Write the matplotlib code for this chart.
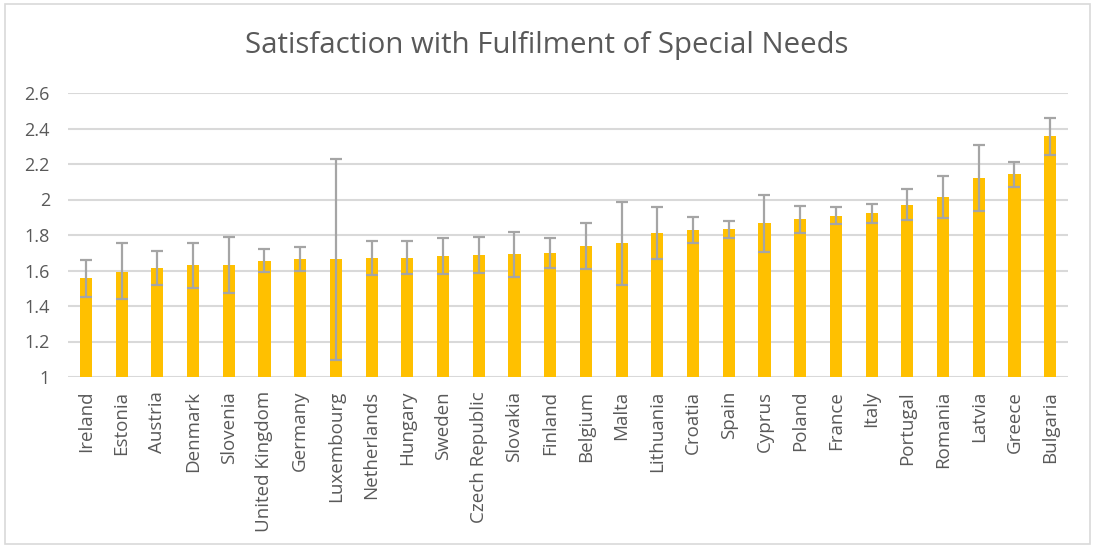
import matplotlib
matplotlib.use("Agg")
import matplotlib.pyplot as plt
import numpy as np

countries = ["Ireland", "Estonia", "Austria", "Denmark", "Slovenia", "United Kingdom",
             "Germany", "Luxembourg", "Netherlands", "Hungary", "Sweden", "Czech Republic",
             "Slovakia", "Finland", "Belgium", "Malta", "Lithuania", "Croatia", "Spain",
             "Cyprus", "Poland", "France", "Italy", "Portugal", "Romania", "Latvia",
             "Greece", "Bulgaria"]

values = [1.555, 1.593, 1.612, 1.631, 1.631, 1.653, 1.663, 1.666, 1.668, 1.672,
          1.680, 1.685, 1.693, 1.698, 1.738, 1.755, 1.809, 1.828, 1.832, 1.866,
          1.888, 1.909, 1.924, 1.971, 2.015, 2.120, 2.141, 2.355]
err_low = [0.103, 0.154, 0.094, 0.127, 0.157, 0.064, 0.066, 0.568, 0.094, 0.094,
           0.098, 0.098, 0.128, 0.086, 0.130, 0.235, 0.145, 0.075, 0.049, 0.160,
           0.077, 0.047, 0.054, 0.084, 0.117, 0.184, 0.068, 0.105]
err_high = [0.104, 0.160, 0.100, 0.126, 0.160, 0.066, 0.067, 0.563, 0.098, 0.092,
            0.101, 0.104, 0.126, 0.083, 0.132, 0.233, 0.149, 0.074, 0.047, 0.160,
            0.078, 0.051, 0.051, 0.087, 0.118, 0.188, 0.071, 0.102]

title = "Satisfaction with Fulfilment of Special Needs"
yticks = [1, 1.2, 1.4, 1.6, 1.8, 2, 2.2, 2.4, 2.6]
ytick_labels = ["1", "1.2", "1.4", "1.6", "1.8", "2", "2.2", "2.4", "2.6"]

plt.rcParams['font.family'] = ['Open Sans', 'DejaVu Sans']
txt = "#595959"

fig = plt.figure(figsize=(10.94, 5.47), dpi=100)
ax = fig.add_axes([68/1094, 1-377/547, 1000/1094, (377-93)/547])

x = np.arange(len(countries))
ax.bar(x, np.array(values) - 1, bottom=1, width=0.34, color="#FFC000", zorder=2)
ax.errorbar(x, values, yerr=[err_low, err_high], fmt="none", ecolor="#A5A5A5",
            elinewidth=1.6, capsize=4.3, capthick=1.6, zorder=3)

ax.set_xlim(-0.5, len(countries) - 0.5)
ax.set_ylim(1, 2.6)
ax.set_yticks(yticks)
ax.set_yticklabels(ytick_labels, fontsize=13, color=txt)
ax.set_xticks(x)
ax.set_xticklabels(countries, rotation=90, fontsize=13.5, color=txt)
ax.tick_params(axis="both", length=0)
ax.tick_params(axis="y", pad=13)
ax.tick_params(axis="x", pad=10)
ax.grid(axis="y", color="#D9D9D9", linewidth=1.5, zorder=0)
ax.set_axisbelow(True)
for s in ax.spines.values():
    s.set_visible(False)

fig.text(0.5, 1-46/547, title, ha="center", va="center", fontsize=21.2, color=txt)

border = plt.Rectangle((5/1094, 3/547), 1085/1094, 540/547, transform=fig.transFigure,
                       fill=False, edgecolor="#D9D9D9", linewidth=1.2)
fig.add_artist(border)

fig.savefig("out.png", dpi=100)
